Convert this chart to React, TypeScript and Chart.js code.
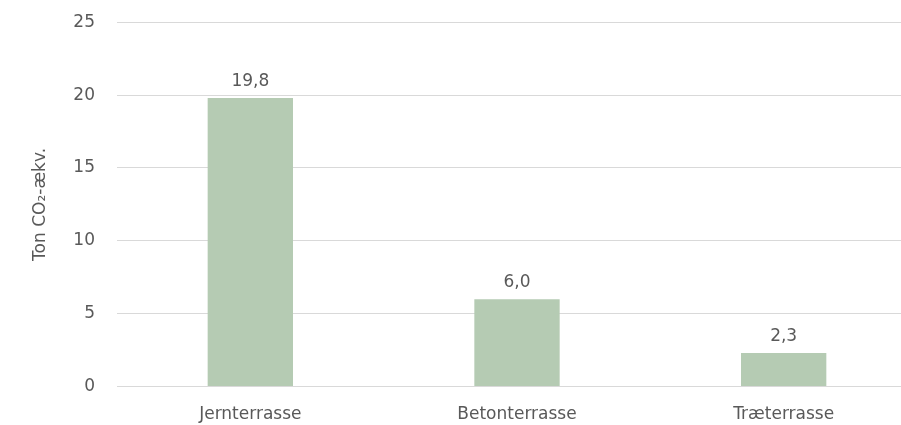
import React, { useEffect, useRef } from "react";
import { Chart, registerables } from "chart.js";

Chart.register(...registerables);

const categories = ["Jernterrasse", "Betonterrasse", "Træterrasse"];
const emissions = [19.8, 6.0, 2.3];
const yTicks = [0, 5, 10, 15, 20, 25];
const yTitle = "Ton CO₂-ækv.";

const TEXT = "#595959";
const GRID = "#d9d9d9";
const BAR = "#b5cbb3";
const FONT = "'DejaVu Sans', sans-serif";

// Writes each bar's value (Danish decimal comma) just above it.
const valueLabels = {
  id: "valueLabels",
  afterDatasetsDraw(chart: any) {
    const { ctx } = chart;
    const meta = chart.getDatasetMeta(0);
    ctx.save();
    ctx.fillStyle = TEXT;
    ctx.font = `17px ${FONT}`;
    ctx.textAlign = "center";
    ctx.textBaseline = "alphabetic";
    meta.data.forEach((bar: any, i: number) => {
      const text = emissions[i].toFixed(1).replace(".", ",");
      ctx.fillText(text, bar.x, bar.y - 12);
    });
    ctx.restore();
  },
};

export default function App() {
  const canvasRef = useRef<HTMLCanvasElement | null>(null);

  useEffect(() => {
    if (!canvasRef.current) return;
    const chart = new Chart(canvasRef.current, {
      type: "bar",
      data: {
        labels: categories,
        datasets: [
          {
            data: emissions,
            backgroundColor: BAR,
            barPercentage: 0.32,
            categoryPercentage: 1,
          },
        ],
      },
      options: {
        animation: false,
        responsive: true,
        maintainAspectRatio: false,
        layout: { padding: { top: 12, bottom: 3, left: 0, right: 0 } },
        plugins: {
          legend: { display: false },
          tooltip: { enabled: false },
        },
        scales: {
          x: {
            grid: { display: false },
            border: { display: false },
            ticks: {
              color: TEXT,
              font: { family: FONT, size: 17 },
              padding: 10,
            },
          },
          y: {
            min: 0,
            max: 25,
            afterBuildTicks(axis: any) {
              axis.ticks = yTicks.map((v) => ({ value: v }));
            },
            grid: { color: GRID, drawTicks: false, lineWidth: 1 },
            border: { display: false },
            ticks: {
              color: TEXT,
              font: { family: FONT, size: 17 },
              padding: 22,
            },
            title: {
              display: true,
              text: yTitle,
              color: TEXT,
              font: { family: FONT, size: 17 },
              padding: { top: 30, bottom: 0 },
            },
            afterFit(axis: any) {
              axis.width = 117;
            },
          },
        },
      },
      plugins: [valueLabels],
    });
    return () => chart.destroy();
  }, []);

  return (
    <div
      style={{
        position: "fixed",
        left: 0,
        top: 0,
        width: 901,
        height: 425,
        overflow: "hidden",
        background: "#fff",
      }}
    >
      <div style={{ position: "relative", top: -10, width: 917, height: 448 }}>
        <canvas ref={canvasRef} />
      </div>
    </div>
  );
}
